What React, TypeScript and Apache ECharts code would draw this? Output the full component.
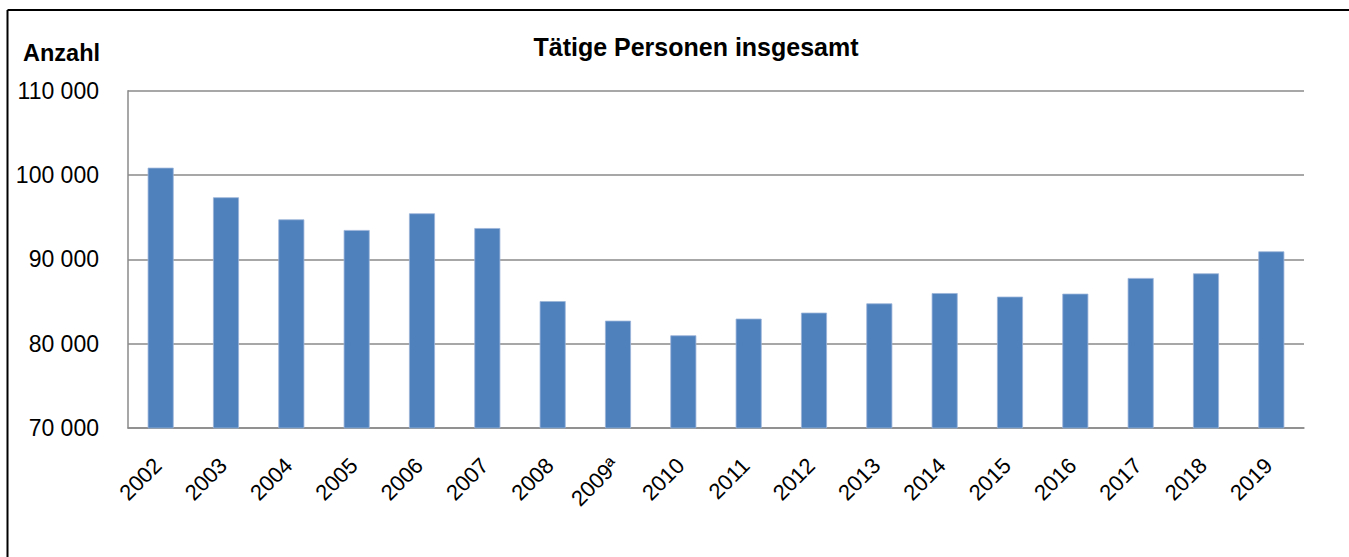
import React, { useEffect, useRef } from "react";
import * as echarts from "echarts";

const categories = [
  "2002", "2003", "2004", "2005", "2006", "2007", "2008", "2009ª", "2010",
  "2011", "2012", "2013", "2014", "2015", "2016", "2017", "2018", "2019",
];
const values = [
  100870, 97360, 94740, 93480, 95460, 93710, 85050, 82730, 80990,
  82970, 83680, 84780, 86000, 85580, 85930, 87790, 88340, 90950,
];
const yMin = 70000;
const yMax = 110000;
const yStep = 10000;
const titleText = "Tätige Personen insgesamt";
const yAxisTitle = "Anzahl";

const FONT = "Arial, 'Liberation Sans', sans-serif";

export default function App() {
  const ref = useRef<HTMLDivElement>(null);
  useEffect(() => {
    if (!ref.current) return;
    const chart = echarts.init(ref.current, undefined, { renderer: "svg" });
    chart.setOption({
      animation: false,
      backgroundColor: "#ffffff",
      textStyle: { fontFamily: FONT },
      grid: { left: 128, right: 45, top: 90.7, bottom: 129, containLabel: false },
      xAxis: {
        type: "category",
        data: categories,
        axisLine: { show: true, lineStyle: { color: "#8a8a8a", width: 1.5 } },
        axisTick: { show: false },
        axisLabel: {
          rotate: 45,
          margin: 31,
          padding: [0, 4, 0, 0],
          color: "#000",
          fontSize: 22,
          fontFamily: FONT,
          interval: 0,
        },
      },
      yAxis: {
        type: "value",
        min: yMin,
        max: yMax,
        interval: yStep,
        axisLine: { show: true, lineStyle: { color: "#8a8a8a", width: 1.5 } },
        axisTick: { show: false },
        splitLine: { show: true, lineStyle: { color: "#8a8a8a", width: 1.5 } },
        axisLabel: {
          margin: 29,
          color: "#000",
          fontSize: 23,
          fontFamily: FONT,
          formatter: (v: number) => {
            const s = String(Math.round(v));
            return s.replace(/\B(?=(\d{3})+(?!\d))/g, " ");
          },
        },
      },
      series: [
        {
          type: "bar",
          data: values,
          barWidth: 26,
          itemStyle: { color: "#4F81BD", borderColor: "#9AB4D8", borderWidth: 0.8 },
        },
      ],
      graphic: [
        {
          type: "line",
          shape: { x1: 7.5, y1: 10, x2: 1349, y2: 10 },
          style: { stroke: "#000", lineWidth: 2 },
        },
        {
          type: "line",
          shape: { x1: 7.5, y1: 10, x2: 7.5, y2: 557 },
          style: { stroke: "#000", lineWidth: 2 },
        },
        {
          type: "text",
          x: 696,
          y: 47,
          style: {
            text: titleText,
            fontSize: 25,
            fontWeight: "bold",
            fontFamily: FONT,
            fill: "#000",
            align: "center",
            verticalAlign: "middle",
          },
        },
        {
          type: "text",
          x: 23,
          y: 53,
          style: {
            text: yAxisTitle,
            fontSize: 23.5,
            fontWeight: "bold",
            fontFamily: FONT,
            fill: "#000",
            align: "left",
            verticalAlign: "middle",
          },
        },
      ],
    });
    return () => chart.dispose();
  }, []);
  return (
    <div
      ref={ref}
      style={{ position: "fixed", left: 0, top: 0, width: 1349, height: 557 }}
    />
  );
}
